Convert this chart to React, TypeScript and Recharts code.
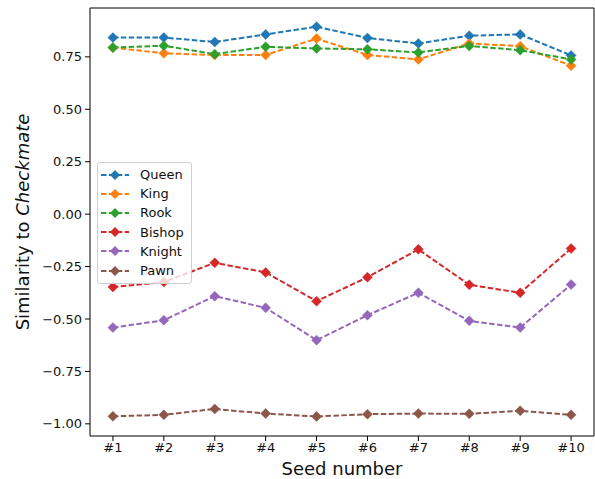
import React from "react";
import { LineChart, Line, XAxis, YAxis, ReferenceLine } from "recharts";

// ---------------------------------------------------------------------------
// Data
// ---------------------------------------------------------------------------
const seedLabels = ["#1", "#2", "#3", "#4", "#5", "#6", "#7", "#8", "#9", "#10"];

const queen = [0.842, 0.842, 0.821, 0.857, 0.894, 0.84, 0.814, 0.851, 0.857, 0.757];
const king = [0.794, 0.767, 0.759, 0.759, 0.837, 0.759, 0.738, 0.814, 0.801, 0.708];
const rook = [0.795, 0.803, 0.763, 0.798, 0.79, 0.786, 0.771, 0.802, 0.782, 0.738];
const bishop = [-0.347, -0.324, -0.232, -0.278, -0.415, -0.301, -0.168, -0.337, -0.375, -0.164];
const knight = [-0.541, -0.506, -0.391, -0.447, -0.601, -0.482, -0.375, -0.509, -0.541, -0.336];
const pawn = [-0.964, -0.957, -0.929, -0.951, -0.965, -0.954, -0.951, -0.952, -0.938, -0.957];

const yTicks = [-1, -0.75, -0.5, -0.25, 0, 0.25, 0.5, 0.75];

const series = [
  { key: "Queen", values: queen, color: "#1f77b4" },
  { key: "King", values: king, color: "#ff7f0e" },
  { key: "Rook", values: rook, color: "#2ca02c" },
  { key: "Bishop", values: bishop, color: "#d62728" },
  { key: "Knight", values: knight, color: "#9467bd" },
  { key: "Pawn", values: pawn, color: "#8c564b" },
];

const rows = seedLabels.map((_, i) => {
  const row: Record<string, number> = { x: i + 1 };
  series.forEach((s) => (row[s.key] = s.values[i]));
  return row;
});

const FONT = "'DejaVu Sans', sans-serif";
const X_DOMAIN: [number, number] = [0.55, 10.45];
const Y_DOMAIN: [number, number] = [-1.058, 0.983];

function fmtY(v: number) {
  return v.toFixed(2).replace("-", "\u2212");
}

function diamondPath(cx: number, cy: number, r: number) {
  return `M${cx},${cy - r}L${cx + r},${cy}L${cx},${cy + r}L${cx - r},${cy}Z`;
}

function makeDot(color: string) {
  return (props: any) => {
    const { cx, cy, index } = props;
    if (cx == null || cy == null) return <g key={index} />;
    return <path key={index} d={diamondPath(cx, cy, 5)} fill={color} stroke={color} strokeWidth={0.5} />;
  };
}

// y label with italic "Checkmate"
function YLabel() {
  return (
    <text
      x={0}
      y={0}
      transform="translate(29,222) rotate(-90)"
      textAnchor="middle"
      fontSize={18}
      fontFamily={FONT}
      fill="#111"
    >
      Similarity to <tspan fontStyle="italic">Checkmate</tspan>
    </text>
  );
}

function LegendBox() {
  return (
    <div
      style={{
        position: "absolute",
        left: 97,
        top: 162,
        width: 95,
        height: 122,
        border: "1px solid #d0d0d0",
        borderRadius: 3,
        background: "rgba(255,255,255,0.8)",
        fontFamily: FONT,
        fontSize: 13,
        color: "#111",
        paddingTop: 2,
        boxSizing: "border-box",
      }}
    >
      {series.map((s) => (
        <div key={s.key} style={{ display: "flex", alignItems: "center", height: 19.2 }}>
          <svg width={42} height={14} style={{ flex: "none" }}>
            <line x1={3} y1={7} x2={31} y2={7} stroke={s.color} strokeWidth={2} strokeDasharray="5.5 2.4" />
            <path d={diamondPath(17, 7, 5)} fill={s.color} />
          </svg>
          <span>{s.key}</span>
        </div>
      ))}
    </div>
  );
}

export default function App() {
  return (
    <div style={{ position: "absolute", left: 0, top: 0, width: 595, height: 479, background: "#fff" }}>
      <LineChart width={595} height={479} data={rows} margin={{ top: 8, right: 1, bottom: 0, left: 0 }}>
        <XAxis
          dataKey="x"
          type="number"
          domain={X_DOMAIN}
          ticks={[1, 2, 3, 4, 5, 6, 7, 8, 9, 10]}
          tickFormatter={(v) => seedLabels[v - 1]}
          height={43}
          tickSize={5}
          tickMargin={2}
          stroke="#000"
          tick={{ fill: "#111", fontSize: 13, fontFamily: FONT }}
          allowDataOverflow
          label={{
            value: "Seed number",
            position: "insideBottom",
            offset: 4,
            fontSize: 18,
            fontFamily: FONT,
            fill: "#111",
          }}
        />
        <YAxis
          type="number"
          domain={Y_DOMAIN}
          ticks={yTicks}
          tickFormatter={fmtY}
          width={90}
          tickSize={5}
          tickMargin={3}
          stroke="#000"
          tick={{ fill: "#111", fontSize: 13, fontFamily: FONT }}
          allowDataOverflow
          label={<YLabel />}
        />
        {/* top and right spines */}
        <ReferenceLine y={Y_DOMAIN[1]} stroke="#000" strokeWidth={1} />
        <ReferenceLine x={X_DOMAIN[1]} stroke="#000" strokeWidth={1} />
        {series.map((s) => (
          <Line
            key={s.key}
            dataKey={s.key}
            type="linear"
            stroke={s.color}
            strokeWidth={2}
            strokeDasharray="5.5 2.4"
            dot={makeDot(s.color)}
            activeDot={false}
            isAnimationActive={false}
          />
        ))}
      </LineChart>
      <LegendBox />
    </div>
  );
}
